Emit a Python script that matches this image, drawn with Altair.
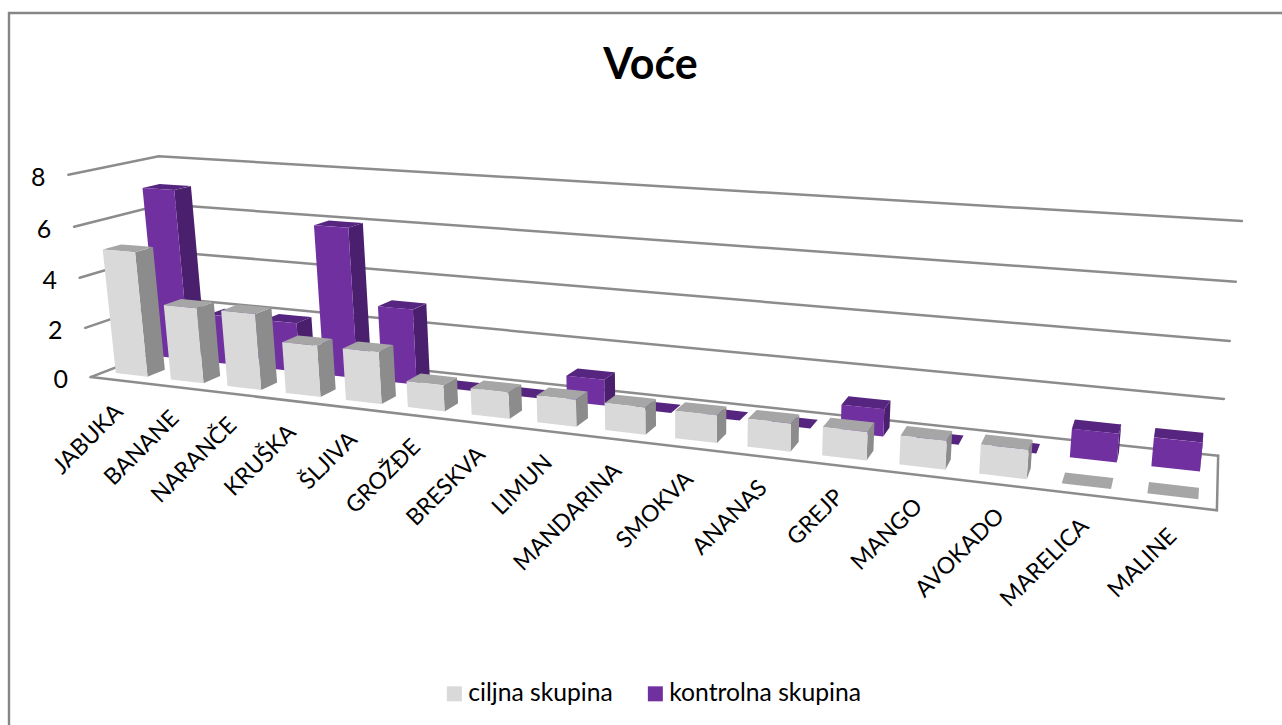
import numpy as np
import pandas as pd
import altair as alt

TITLE = "Voće"
CATEGORIES = ["JABUKA", "BANANE", "NARANČE", "KRUŠKA", "ŠLJIVA", "GROŽĐE", "BRESKVA", "LIMUN",
              "MANDARINA", "SMOKVA", "ANANAS", "GREJP", "MANGO", "AVOKADO", "MARELICA", "MALINE"]
SERIES = ["ciljna skupina", "kontrolna skupina"]
CILJNA = [5, 3, 3, 2, 2, 1, 1, 1, 1, 1, 1, 1, 1, 1, 0, 0]
KONTROLNA = [7, 2, 2, 6, 3, 0, 0, 1, 0, 0, 0, 1, 0, 0, 1, 1]
TICKS = [0, 2, 4, 6, 8]

W, H = 1282, 725

# Camera for the 3D scene: (category position, depth, value) -> page position,
# solved from where the corners of the plot box sit on the page.
BOX_CORNERS = [
    ((0, 0, 0), (90, 377)), ((16, 0, 0), (1217, 510)),
    ((16, 1, 0), (1218, 456)), ((0, 1, 0), (177, 344)),
    ((0, 1, 8), (158, 156)), ((16, 1, 8), (1242, 221)),
    ((0, 0, 8), (69, 175)),
]
A, b = [], []
for (u, w, v), (px, py) in BOX_CORNERS:
    A.append([u, w, v, 1, 0, 0, 0, 0, -px * u, -px * w, -px * v])
    A.append([0, 0, 0, 0, u, w, v, 1, -py * u, -py * w, -py * v])
    b += [px, py]
camera = np.append(np.linalg.lstsq(np.array(A, float), np.array(b, float), rcond=None)[0], 1).reshape(3, 4)


def project(u, w, v):
    x, y, s = camera @ np.array([u, w, v, 1.0])
    return x / s, y / s


def spans(poly):
    """Upper and lower edge of a convex polygon at each of its vertices' x."""
    rows = []
    n = len(poly)
    for x in sorted({p[0] for p in poly}):
        ys = []
        for i in range(n):
            (x1, y1), (x2, y2) = poly[i], poly[(i + 1) % n]
            if min(x1, x2) <= x <= max(x1, x2):
                if x1 == x2:
                    ys += [y1, y2]
                else:
                    ys.append(y1 + (y2 - y1) * (x - x1) / (x2 - x1))
        rows.append((x, min(ys), max(ys)))
    return rows


BAR_HALF = 0.29
ROWS = {SERIES[1]: (0.65, 0.85), SERIES[0]: (0.15, 0.35)}
SHADES = {
    SERIES[0]: ("sivi bok", "sivi vrh"),
    SERIES[1]: ("ljubičasti bok", "ljubičasti vrh"),
}
SHADE_DOMAIN = SERIES + ["sivi bok", "sivi vrh", "ljubičasti bok", "ljubičasti vrh"]
SHADE_RANGE = ["#D9D9D9", "#7030A0", "#8C8C8C", "#A6A6A6", "#4A1F6E", "#55257F"]

faces = []
face_id = 0


def add_face(corners, shade):
    global face_id
    poly = [project(*c) for c in corners]
    for x, y, y2 in spans(poly):
        faces.append({"face": face_id, "x": x, "y": y, "y2": y2, "shade": shade})
    face_id += 1


# Back row first, then left to right, so nearer faces paint over farther ones.
for name, values in ((SERIES[1], KONTROLNA), (SERIES[0], CILJNA)):
    w0, w1 = ROWS[name]
    side, top = SHADES[name]
    for i, val in enumerate(values):
        u0, u1 = i + 0.5 - BAR_HALF, i + 0.5 + BAR_HALF
        if val > 0:
            add_face([(u1, w0, 0), (u1, w1, 0), (u1, w1, val), (u1, w0, val)], side)
        add_face([(u0, w0, val), (u1, w0, val), (u1, w1, val), (u0, w1, val)], top)
        if val > 0:
            add_face([(u0, w0, 0), (u1, w0, 0), (u1, w0, val), (u0, w0, val)], name)

faces_df = pd.DataFrame(faces)

grid = []
for t in TICKS:
    for order, c in enumerate([(0, 0, t), (0, 1, t), (16, 1, t)]):
        x, y = project(*c)
        grid.append({"line": f"g{t}", "order": order, "x": x, "y": y})
for order, c in enumerate([(0, 0, 0), (16, 0, 0), (16, 1, 0)]):
    x, y = project(*c)
    grid.append({"line": "floor", "order": order, "x": x, "y": y})
grid_df = pd.DataFrame(grid)

value_labels = pd.DataFrame(
    [{"label": str(t), "x": project(0, 0, t)[0], "y": project(0, 0, t)[1]} for t in TICKS]
)
cat_labels = pd.DataFrame(
    [{"label": c, "x": project(i + 0.5, 0, 0)[0], "y": project(i + 0.5, 0, 0)[1]}
     for i, c in enumerate(CATEGORIES)]
)
frame_df = pd.DataFrame({"x": [9, 9, W], "y": [H, 13, 13], "order": [0, 1, 2]})
title_df = pd.DataFrame({"x": [650.5], "y": [79], "label": [TITLE]})

FONT = "Lato"
X = lambda f="x": alt.X(f"{f}:Q", scale=alt.Scale(domain=[0, W], range=[0, W]), axis=None)
Y = lambda f="y": alt.Y(f"{f}:Q", scale=alt.Scale(domain=[H, 0], range=[H, 0]), axis=None, stack=None)

frame = alt.Chart(frame_df).mark_line(color="#868686", strokeWidth=2.4, clip=False).encode(
    x=X(), y=Y(), order="order:Q")
lines = alt.Chart(grid_df).mark_line(color="#8C8C8C", strokeWidth=2.5, strokeCap="round").encode(
    x=X(), y=Y(), detail="line:N", order="order:Q")
bars = alt.Chart(faces_df).mark_area(opacity=1, interpolate="linear").encode(
    x=X(), y=Y(), y2="y2:Q", detail="face:N",
    color=alt.Color(
        "shade:N",
        scale=alt.Scale(domain=SHADE_DOMAIN, range=SHADE_RANGE),
        legend=alt.Legend(
            values=SERIES, title=None, orient="none", legendX=442, legendY=681,
            direction="horizontal", columns=2, symbolType="square", symbolSize=225,
            symbolStrokeWidth=0, labelFont=FONT, labelFontSize=24.7, labelColor="#000000",
            columnPadding=30, labelOffset=1.5, labelLimit=300, symbolOpacity=1,
        ),
    ),
)
value_text = alt.Chart(value_labels).mark_text(
    font=FONT, fontSize=25, color="#000000", align="center", baseline="middle", dx=-30, dy=3
).encode(x=X(), y=Y(), text="label:N")
cat_text = alt.Chart(cat_labels).mark_text(
    font=FONT, fontSize=23, color="#000000", align="right", baseline="middle",
    angle=315, dx=-19, dy=20.5
).encode(x=X(), y=Y(), text="label:N")
title = alt.Chart(title_df).mark_text(
    font=FONT, fontSize=43, fontWeight="bold", color="#000000", align="center", baseline="alphabetic"
).encode(x=X(), y=Y(), text="label:N")

chart = alt.layer(frame, lines, bars, value_text, cat_text, title).properties(
    width=W, height=H, padding=0, autosize=alt.AutoSizeParams(type="none"),
    background="#FFFFFF",
).configure_view(stroke=None)

chart.save("out.html", embed_options={"renderer": "svg", "actions": False})
